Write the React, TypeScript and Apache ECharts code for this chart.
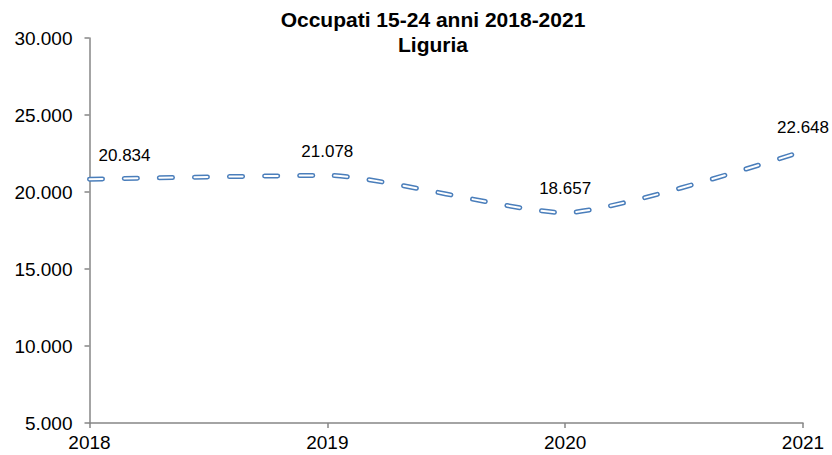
import React, { useEffect, useRef } from "react";
import * as echarts from "echarts";

const titleLines = ["Occupati 15-24 anni 2018-2021", "Liguria"];
const years = ["2018", "2019", "2020", "2021"];
const occupati = [20834, 21078, 18657, 22648];
const yMin = 5000;
const yMax = 30000;
const yStep = 5000;

const FONT = "'Liberation Sans', Arial, sans-serif";

const fmt = (v: number) => {
  const s = Math.round(v).toString();
  return s.replace(/\B(?=(\d{3})+(?!\d))/g, ".");
};

export default function App() {
  const ref = useRef<HTMLDivElement>(null);
  useEffect(() => {
    if (!ref.current) return;
    const chart = echarts.init(ref.current, null, { renderer: "svg" });
    const labelData = occupati.map((v, i) => ({
      value: v,
      label: i === 0 ? { offset: [35, 0] } : {},
    }));
    chart.setOption({
      animation: false,
      backgroundColor: "#ffffff",
      title: {
        text: titleLines.join("\n"),
        left: 433,
        top: 7,
        textAlign: "center",
        padding: 0,
        textStyle: {
          fontFamily: FONT,
          fontSize: 21,
          fontWeight: "bold",
          color: "#000",
          lineHeight: 25,
        },
      },
      grid: { left: 89.5, right: 29, top: 38, bottom: 32, containLabel: false },
      xAxis: {
        type: "category",
        data: years,
        boundaryGap: false,
        axisLine: { lineStyle: { color: "#868686", width: 1.5 } },
        axisTick: { show: true, length: 5, lineStyle: { color: "#868686", width: 1.5 } },
        axisLabel: { fontFamily: FONT, fontSize: 19, color: "#000", margin: 10 },
        splitLine: { show: false },
      },
      yAxis: {
        type: "value",
        min: yMin,
        max: yMax,
        interval: yStep,
        axisLine: { show: true, lineStyle: { color: "#868686", width: 1.5 } },
        axisTick: { show: true, length: 5, lineStyle: { color: "#868686", width: 1.5 } },
        axisLabel: {
          fontFamily: FONT,
          fontSize: 19,
          color: "#000",
          margin: 17,
          formatter: (v: number) => fmt(v),
        },
        splitLine: { show: false },
      },
      series: [
        {
          type: "line",
          data: occupati,
          smooth: 0.2,
          symbol: "none",
          lineStyle: { color: "#4a7ebb", width: 5, type: [13, 22], cap: "round" },
          z: 2,
        },
        {
          type: "line",
          data: labelData,
          smooth: 0.2,
          symbol: "circle",
          symbolSize: 1,
          showSymbol: true,
          itemStyle: { color: "rgba(0,0,0,0)" },
          lineStyle: { color: "#ffffff", width: 2, type: [13, 22], cap: "round" },
          label: {
            show: true,
            position: "top",
            distance: 15,
            fontFamily: FONT,
            fontSize: 17,
            color: "#000",
            formatter: (p: any) => fmt(p.value),
          },
          z: 3,
        },
      ],
    });
    return () => chart.dispose();
  }, []);
  return (
    <div
      ref={ref}
      style={{ position: "fixed", left: 0, top: 0, width: 832, height: 455 }}
    />
  );
}
